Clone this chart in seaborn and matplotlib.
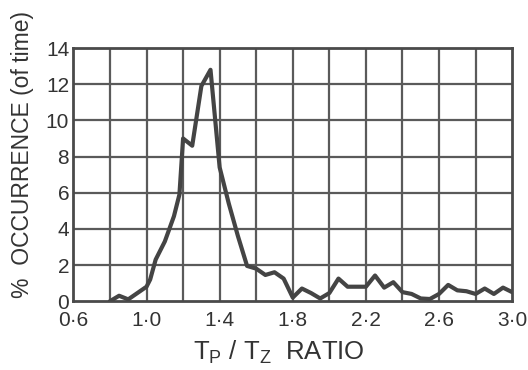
import matplotlib
matplotlib.use("Agg")
import matplotlib.pyplot as plt
import seaborn as sns
import pandas as pd

ratio = [0.80, 0.85, 0.90, 0.95, 1.00, 1.02, 1.05, 1.10, 1.15, 1.18, 1.20, 1.25,
         1.30, 1.35, 1.40, 1.45, 1.50, 1.55, 1.60, 1.65, 1.70, 1.75, 1.80, 1.85,
         1.90, 1.95, 2.00, 2.05, 2.10, 2.15, 2.20, 2.25, 2.30, 2.35, 2.40, 2.45,
         2.50, 2.55, 2.60, 2.65, 2.70, 2.75, 2.80, 2.85, 2.90, 2.95, 3.00]
occurrence = [0.0, 0.3, 0.1, 0.45, 0.8, 1.2, 2.3, 3.3, 4.7, 5.9, 9.0, 8.6,
              11.9, 12.8, 7.4, 5.4, 3.6, 1.95, 1.8, 1.45, 1.6, 1.25, 0.2, 0.7,
              0.45, 0.15, 0.45, 1.25, 0.8, 0.8, 0.8, 1.42, 0.75, 1.05, 0.5, 0.4,
              0.15, 0.12, 0.4, 0.9, 0.6, 0.55, 0.4, 0.7, 0.4, 0.75, 0.5]
xtick_vals = [0.6, 1.0, 1.4, 1.8, 2.2, 2.6, 3.0]
xtick_labels = ["0·6", "1·0", "1·4", "1·8", "2·2", "2·6", "3·0"]
ytick_vals = [0, 2, 4, 6, 8, 10, 12, 14]

sns.set_style("white")
fam = ["Liberation Sans Narrow", "Liberation Sans", "DejaVu Sans"]
plt.rcParams["font.family"] = fam

df = pd.DataFrame({"ratio": ratio, "occ": occurrence})

fig = plt.figure(figsize=(5.28, 3.70), dpi=100)
ax = fig.add_axes([0.139, 0.186, 0.831, 0.684])

grid_c = "#5a5a5a"
for gx in [0.8, 1.0, 1.2, 1.4, 1.6, 1.8, 2.0, 2.2, 2.4, 2.6, 2.8]:
    ax.axvline(gx, color=grid_c, lw=1.6, zorder=1)
for gy in [2, 4, 6, 8, 10, 12]:
    ax.axhline(gy, color=grid_c, lw=1.6, zorder=1)

sns.lineplot(data=df, x="ratio", y="occ", ax=ax, color="#444444", lw=3.0, zorder=3)

ax.set_xlim(0.6, 3.0)
ax.set_ylim(0, 14)
ax.set_xticks(xtick_vals)
ax.set_xticklabels(xtick_labels)
ax.set_yticks(ytick_vals)
ax.set_yticklabels([str(v) for v in ytick_vals])
ax.tick_params(axis="both", length=0, labelsize=15, colors="#333333")
ax.tick_params(axis="x", pad=7)
ax.tick_params(axis="y", pad=3)
for s in ax.spines.values():
    s.set_color("#4a4a4a")
    s.set_linewidth(2.0)
ax.set_xlabel("")
ax.set_ylabel("")

fig.text(0.042, 1 - 155 / 370, "%  OCCURRENCE (of time)", rotation=90,
         ha="center", va="center", fontsize=16.5, color="#333333")
fig.text(0.528, 1 - 352 / 370, r"T$_\mathregular{P}$ / T$_\mathregular{Z}$  RATIO",
         ha="center", va="center", fontsize=18.5, color="#333333")

fig.savefig("out.png", dpi=100, facecolor="white")
